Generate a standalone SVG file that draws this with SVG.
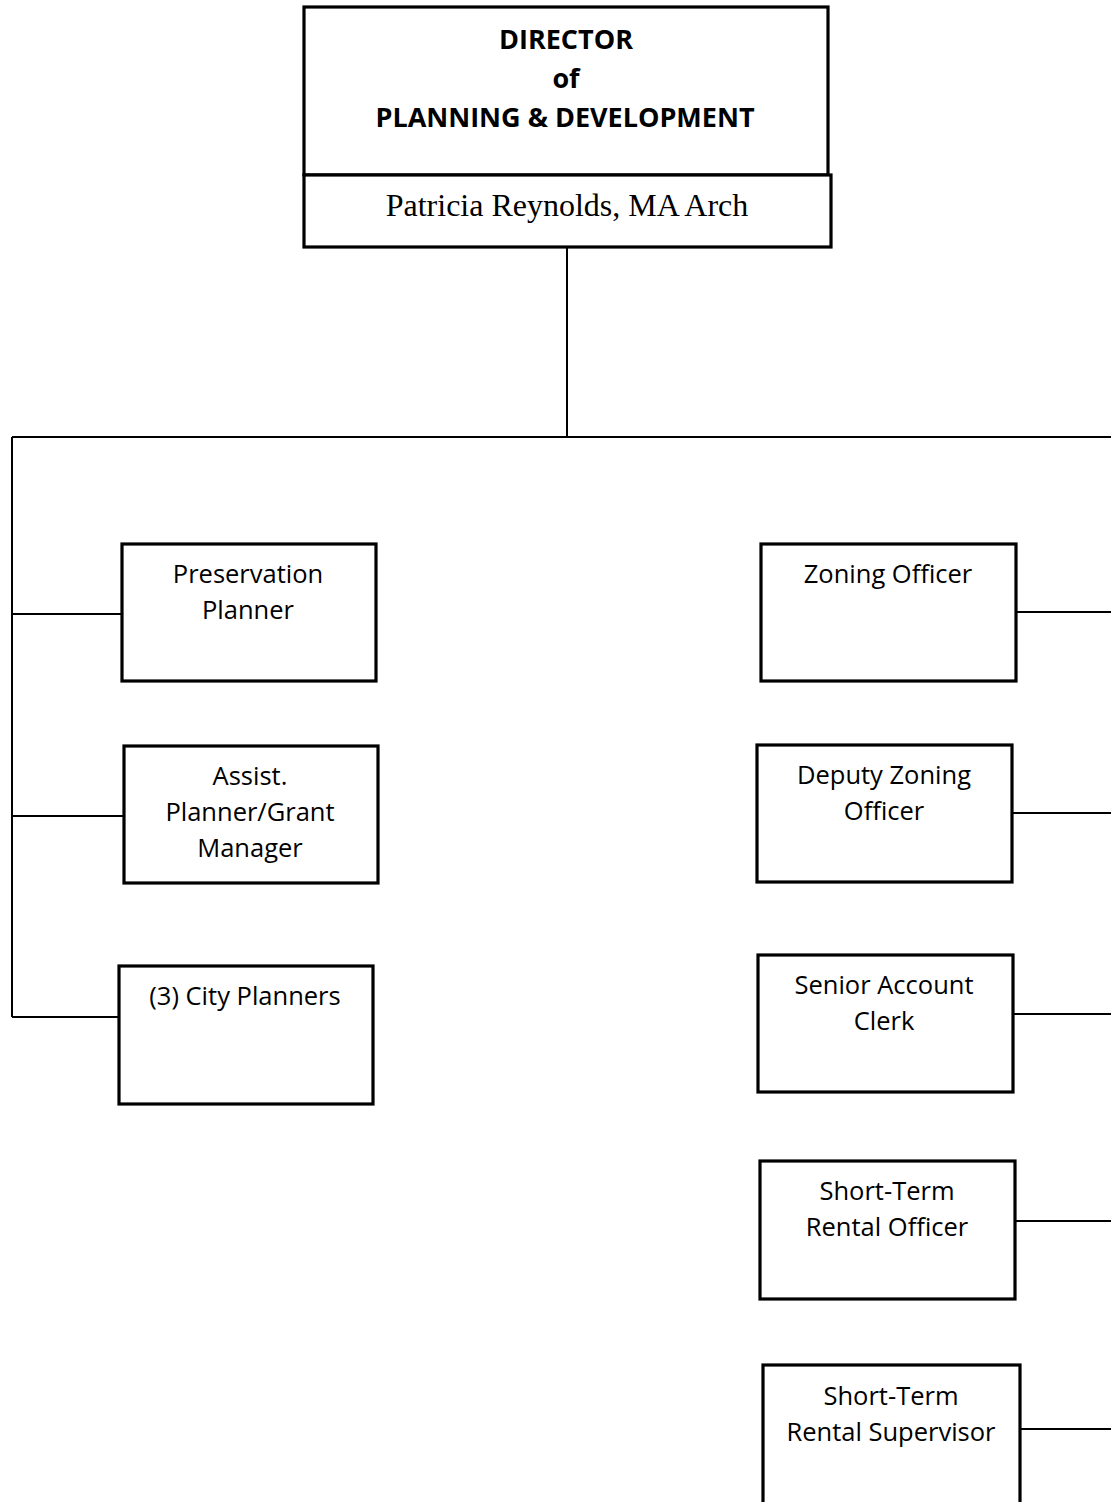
<svg xmlns="http://www.w3.org/2000/svg" width="1111" height="1502" viewBox="0 0 1111 1502">
<style>
.box{fill:#fff;stroke:#000;stroke-width:3.2}
.ln{fill:none;stroke:#000;stroke-width:2}
.t{font-family:"Open Sans","Noto Sans",sans-serif;font-size:25.5px;text-anchor:middle;fill:#000}
.h{font-family:"Open Sans","Noto Sans",sans-serif;font-size:27px;font-weight:bold;text-anchor:middle;fill:#000}
.s{font-family:"Liberation Serif",serif;font-size:32px;text-anchor:middle;fill:#000}
</style>
<rect width="1111" height="1502" fill="#fff"/>
<g id="connectors">
<path class="ln" d="M567 247V437M12 437H1111M12 437V1017"/>
<path class="ln" d="M12 614H121M12 816H123M12 1017H119"/>
<path class="ln" d="M1016 612H1111M1012 813H1111M1013 1014H1111M1015 1221H1111M1020 1429H1111"/>
</g>
<g id="director">
<rect class="box" x="304" y="7" width="524" height="168"/>
<text class="h" x="566" y="49">DIRECTOR</text>
<text class="h" x="566" y="88">of</text>
<text class="h" x="565" y="127">PLANNING &amp; DEVELOPMENT</text>
</g>
<g id="director-name">
<rect class="box" x="304" y="175" width="527" height="72"/>
<text class="s" x="567" y="216">Patricia Reynolds, MA Arch</text>
</g>
<g id="preservation-planner">
<rect class="box" x="122" y="544" width="254" height="137"/>
<text class="t" x="248" y="583">Preservation</text>
<text class="t" x="248" y="619">Planner</text>
</g>
<g id="assist-planner">
<rect class="box" x="124" y="746" width="254" height="137"/>
<text class="t" x="250" y="785">Assist.</text>
<text class="t" x="250" y="821">Planner/Grant</text>
<text class="t" x="250" y="857">Manager</text>
</g>
<g id="city-planners">
<rect class="box" x="119" y="966" width="254" height="138"/>
<text class="t" x="245" y="1005">(3) City Planners</text>
</g>
<g id="zoning-officer">
<rect class="box" x="761" y="544" width="255" height="137"/>
<text class="t" x="888" y="583">Zoning Officer</text>
</g>
<g id="deputy-zoning-officer">
<rect class="box" x="757" y="745" width="255" height="137"/>
<text class="t" x="884" y="784">Deputy Zoning</text>
<text class="t" x="884" y="820">Officer</text>
</g>
<g id="senior-account-clerk">
<rect class="box" x="758" y="955" width="255" height="137"/>
<text class="t" x="884" y="994">Senior Account</text>
<text class="t" x="884" y="1030">Clerk</text>
</g>
<g id="str-officer">
<rect class="box" x="760" y="1161" width="255" height="138"/>
<text class="t" x="887" y="1200">Short-Term</text>
<text class="t" x="887" y="1236">Rental Officer</text>
</g>
<g id="str-supervisor">
<rect class="box" x="763" y="1365" width="257" height="150"/>
<text class="t" x="891" y="1405">Short-Term</text>
<text class="t" x="891" y="1441">Rental Supervisor</text>
</g>
</svg>
